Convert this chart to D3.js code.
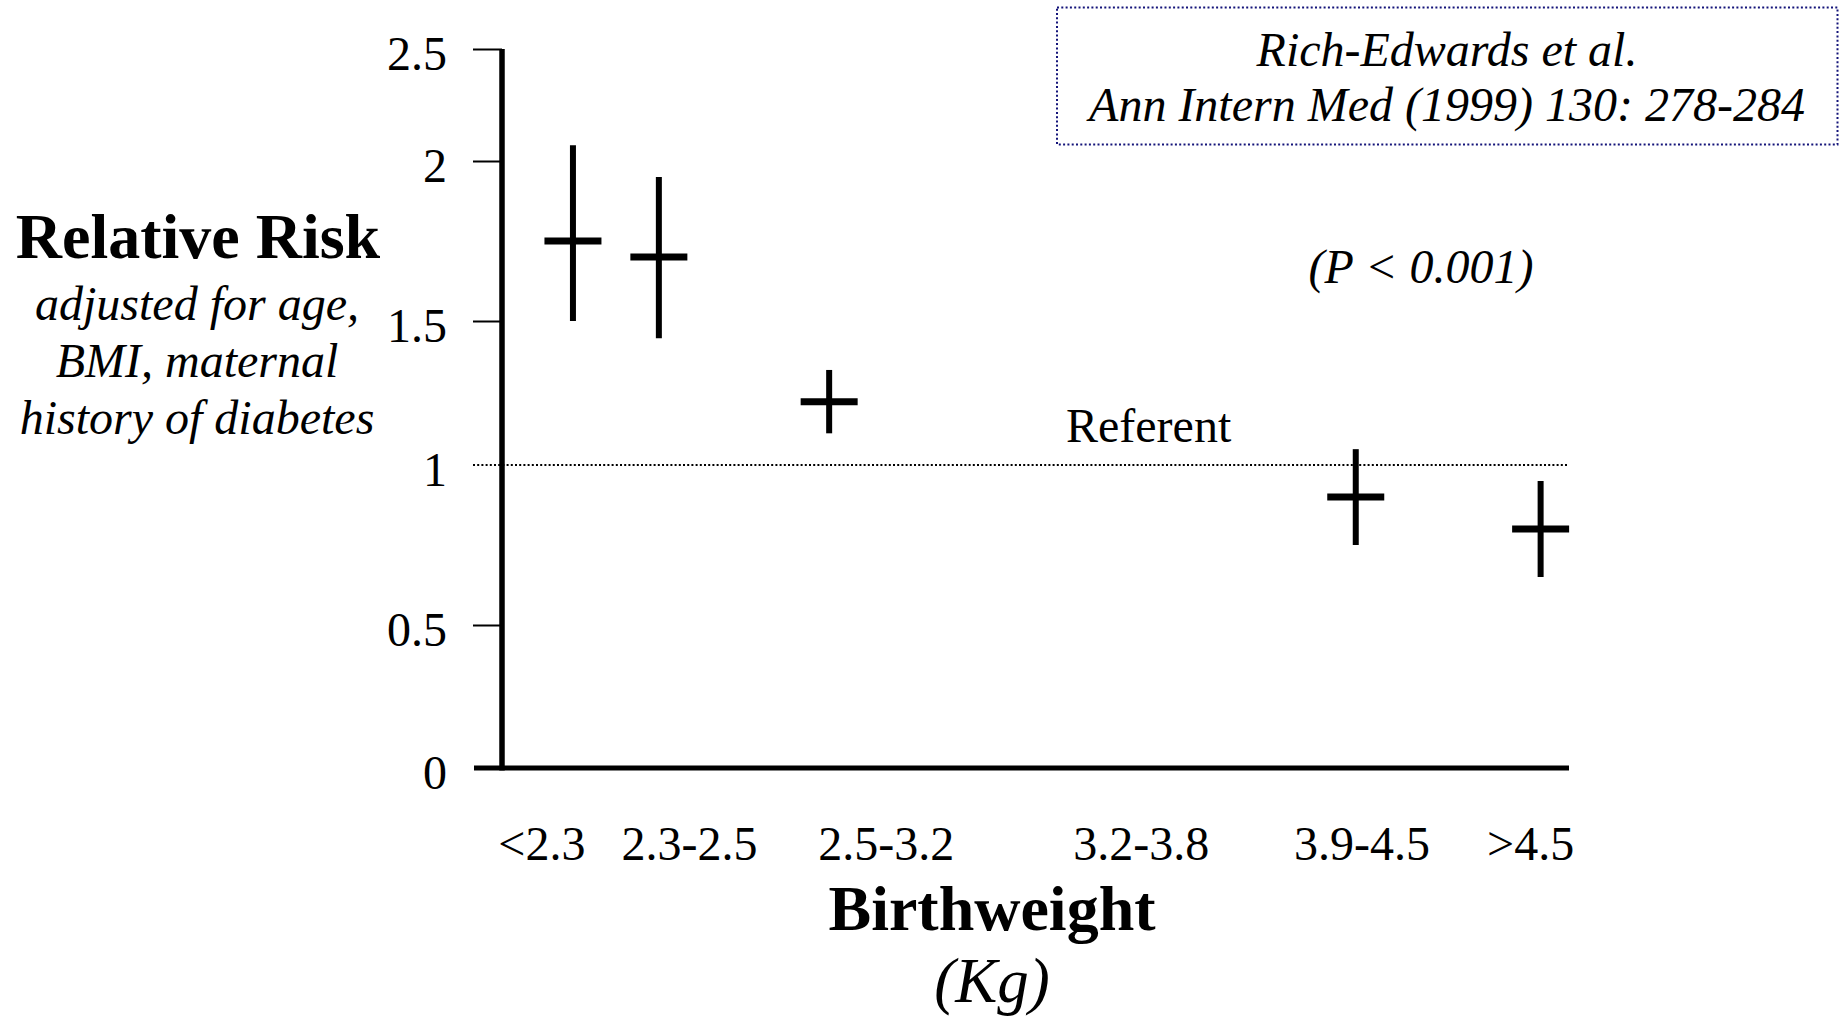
<!DOCTYPE html>
<html>
<head>
<meta charset="utf-8">
<script src="https://cdn.jsdelivr.net/npm/d3@7"></script>
<style>
  html, body { margin: 0; padding: 0; background: #ffffff; }
  svg { display: block; }
  text { font-family: "Liberation Serif", "Times New Roman", serif; fill: #000; }
</style>
</head>
<body>
<svg id="chart" width="1845" height="1019"></svg>
<script>
// ---- data ----
const categories = ["<2.3", "2.3-2.5", "2.5-3.2", "3.2-3.8", "3.9-4.5", ">4.5"];
// horizontal label positions, in kg on the birthweight axis
const labelKg = [2.095, 2.48, 2.993, 3.658, 4.233, 4.673];
// estimates (no mark for the referent group 3.2-3.8)
const pointCategories = ["<2.3", "2.3-2.5", "2.5-3.2", "3.9-4.5", ">4.5"];
const pointKg = [2.176, 2.40, 2.844, 4.217, 4.699];
const rr      = [1.75, 1.70, 1.22, 0.90, 0.80];
const rrLow   = [1.50, 1.44, 1.11, 0.75, 0.65];
const rrHigh  = [2.07, 1.95, 1.33, 1.055, 0.95];
const yTickValues = [0, 0.5, 1, 1.5, 2, 2.5];
const yTickLabels = ["0", "0.5", "1", "1.5", "2", "2.5"];
const referentValue = 1;

// ---- scales ----
const svg = d3.select("#chart");
// hand-drawn axis: tick spacing is uneven, so the scale is piecewise linear
const y = d3.scaleLinear()
  .domain(yTickValues)
  .range([768, 625, 465, 321, 161, 49]);
const x = d3.scaleLinear().domain([1.918, 4.773]).range([474, 1569]);

// ---- y axis ticks + labels ----
const yAxis = d3.axisLeft(y)
  .tickValues(yTickValues)
  .tickFormat((d, i) => yTickLabels[i])
  .tickSize(29)
  .tickPadding(26);
const gy = svg.append("g").attr("transform", "translate(502,0)").call(yAxis);
gy.select(".domain").remove();
gy.selectAll(".tick line")
  .attr("stroke", "#000").attr("stroke-width", 2)
  .attr("opacity", d => (d === 0 || d === 1) ? 0 : 1);
gy.selectAll(".tick text")
  .attr("font-size", 48)
  .attr("dy", "0.42em")
  .attr("font-family", "'Liberation Serif', 'Times New Roman', serif")
  .attr("fill", "#000");

// ---- referent dotted line ----
svg.append("line")
  .attr("x1", 473).attr("x2", x.range()[1])
  .attr("y1", y(referentValue)).attr("y2", y(referentValue))
  .attr("stroke", "#000").attr("stroke-width", 1.8)
  .attr("stroke-dasharray", "2,2.2");

// ---- axes lines ----
svg.append("line")
  .attr("x1", 502).attr("x2", 502)
  .attr("y1", y(2.5)).attr("y2", y(0) + 2.5)
  .attr("stroke", "#000").attr("stroke-width", 5.5);
svg.append("line")
  .attr("x1", x.range()[0]).attr("x2", x.range()[1])
  .attr("y1", y(0)).attr("y2", y(0))
  .attr("stroke", "#000").attr("stroke-width", 5);

// ---- category labels ----
svg.append("g").selectAll("text")
  .data(categories)
  .join("text")
  .attr("x", (d, i) => x(labelKg[i]))
  .attr("y", 860)
  .attr("text-anchor", "middle")
  .attr("font-size", 48)
  .text(d => d);

// ---- crosses (estimate + CI) ----
const capHalf = 28.5;
const pts = pointCategories.map((c, i) => ({c, kg: pointKg[i], v: rr[i], lo: rrLow[i], hi: rrHigh[i]}));
const gp = svg.append("g");
gp.selectAll("line.ci")
  .data(pts).join("line").attr("class", "ci")
  .attr("x1", d => x(d.kg)).attr("x2", d => x(d.kg))
  .attr("y1", d => y(d.hi)).attr("y2", d => y(d.lo))
  .attr("stroke", "#000").attr("stroke-width", 6);
gp.selectAll("line.est")
  .data(pts).join("line").attr("class", "est")
  .attr("x1", d => x(d.kg) - capHalf).attr("x2", d => x(d.kg) + capHalf)
  .attr("y1", d => y(d.v)).attr("y2", d => y(d.v))
  .attr("stroke", "#000").attr("stroke-width", 7);

// ---- annotations ----
svg.append("text")
  .attr("x", 1066).attr("y", y(referentValue) - 23)
  .attr("font-size", 48)
  .text("Referent");

svg.append("text")
  .attr("x", 1421).attr("y", 283)
  .attr("text-anchor", "middle")
  .attr("font-size", 48).attr("font-style", "italic")
  .text("(P < 0.001)");

// y title
const yt = svg.append("g").attr("text-anchor", "middle");
yt.append("text").attr("x", 198).attr("y", 258)
  .attr("font-size", 64).attr("font-weight", "bold").text("Relative Risk");
const subLines = ["adjusted for age,", "BMI, maternal", "history of diabetes"];
yt.selectAll("text.sub").data(subLines).join("text").attr("class", "sub")
  .attr("x", 197)
  .attr("y", (d, i) => 320 + i * 57)
  .attr("font-size", 48).attr("font-style", "italic")
  .text(d => d);

// x title
svg.append("text").attr("x", 992).attr("y", 930)
  .attr("text-anchor", "middle")
  .attr("font-size", 64).attr("font-weight", "bold").text("Birthweight");
svg.append("text").attr("x", 992).attr("y", 1002)
  .attr("text-anchor", "middle")
  .attr("font-size", 63).attr("font-style", "italic").text("(Kg)");

// citation box
svg.append("rect")
  .attr("x", 1057).attr("y", 7.5).attr("width", 780.5).attr("height", 137)
  .attr("fill", "none").attr("stroke", "#14147a").attr("stroke-width", 2)
  .attr("stroke-dasharray", "2,2.3");
const cite = ["Rich-Edwards et al.", "Ann Intern Med (1999) 130: 278-284"];
svg.append("g").selectAll("text").data(cite).join("text")
  .attr("x", 1447).attr("y", (d, i) => 66 + i * 55)
  .attr("text-anchor", "middle")
  .attr("font-size", 48).attr("font-style", "italic")
  .text(d => d);
</script>
</body>
</html>
